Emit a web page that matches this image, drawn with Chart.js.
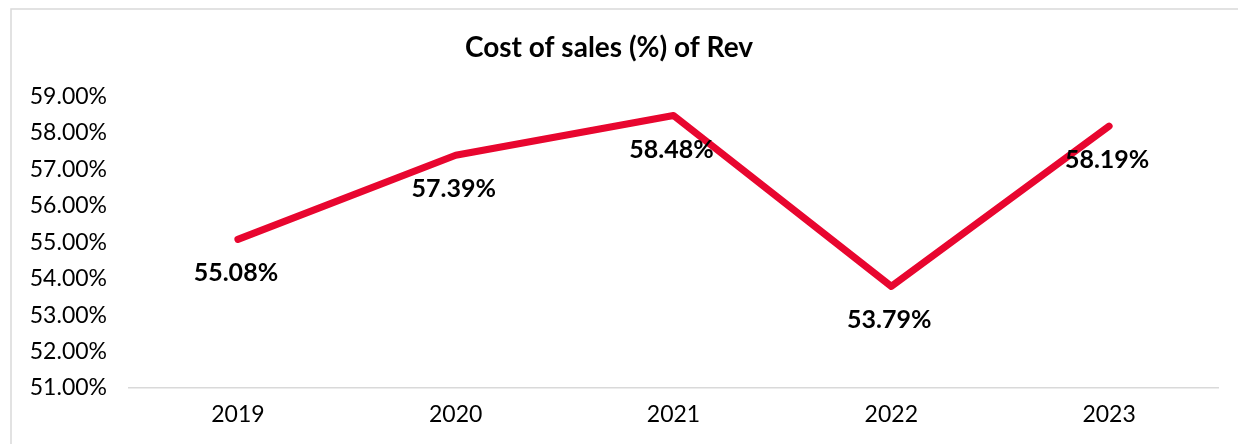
<!DOCTYPE html>
<html>
<head>
<meta charset="utf-8">
<script src="https://cdn.jsdelivr.net/npm/chart.js@4.4.1/dist/chart.umd.min.js"></script>
<style>
  html, body { margin: 0; padding: 0; background: #ffffff; }
  #wrap { position: relative; width: 1238px; height: 444px; }
</style>
</head>
<body>
<div id="wrap"><canvas id="c" width="1238" height="444"></canvas></div>
<script>
// Cost of sales as a share of revenue, by year
const years = ['2019', '2020', '2021', '2022', '2023'];
const costOfSalesPct = [55.08, 57.39, 58.48, 53.79, 58.19];
const yMin = 51;
const yMax = 59;

const FONT = 'Lato, "DejaVu Sans", sans-serif';
const LINE_RED = '#E8062F';

// Light grey frame around the chart panel
const framePlugin = {
  id: 'frame',
  beforeDraw(chart) {
    const ctx = chart.ctx;
    ctx.save();
    ctx.strokeStyle = '#d9d9d9';
    ctx.lineWidth = 1.5;
    ctx.beginPath();
    ctx.moveTo(11, chart.height + 2);
    ctx.lineTo(11, 9);
    ctx.lineTo(chart.width + 2, 9);
    ctx.stroke();
    ctx.restore();
  }
};

// Bold value labels placed just under each point
const valueLabelPlugin = {
  id: 'valueLabels',
  afterDatasetsDraw(chart) {
    const ctx = chart.ctx;
    const meta = chart.getDatasetMeta(0);
    const values = chart.data.datasets[0].data;
    ctx.save();
    ctx.font = 'bold 25px ' + FONT;
    ctx.fillStyle = '#000000';
    ctx.textAlign = 'center';
    ctx.textBaseline = 'middle';
    meta.data.forEach((pt, i) => {
      ctx.fillText(values[i].toFixed(2) + '%', pt.x - 2, pt.y + 34);
    });
    ctx.restore();
  }
};

new Chart(document.getElementById('c'), {
  type: 'line',
  data: {
    labels: years,
    datasets: [{
      data: costOfSalesPct,
      borderColor: LINE_RED,
      backgroundColor: LINE_RED,
      borderWidth: 7,
      borderCapStyle: 'round',
      borderJoinStyle: 'round',
      pointRadius: 0,
      tension: 0,
      fill: false
    }]
  },
  options: {
    responsive: false,
    animation: false,
    layout: { padding: { left: 0, right: 20, top: 0, bottom: 0 } },
    plugins: {
      legend: { display: false },
      tooltip: { enabled: false },
      title: {
        display: true,
        text: 'Cost of sales (%) of Rev',
        color: '#000000',
        font: { family: FONT, size: 28, weight: 'bold', lineHeight: 1.2 },
        padding: { top: 31, bottom: 32 }
      }
    },
    scales: {
      x: {
        type: 'category',
        offset: true,
        grid: { display: false, drawTicks: false },
        border: { display: true, color: '#d9d9d9', width: 1.5 },
        ticks: {
          color: '#000000',
          font: { family: FONT, size: 23 },
          padding: 13,
          maxRotation: 0
        },
        afterFit(scale) { scale.height = 56; }
      },
      y: {
        min: yMin,
        max: yMax,
        grid: { display: false, drawTicks: false },
        border: { display: false },
        ticks: {
          stepSize: 1,
          color: '#000000',
          font: { family: FONT, size: 23 },
          padding: 22,
          callback: (v) => v.toFixed(2) + '%'
        },
        afterFit(scale) { scale.width = 129; }
      }
    }
  },
  plugins: [framePlugin, valueLabelPlugin]
});
</script>
</body>
</html>
